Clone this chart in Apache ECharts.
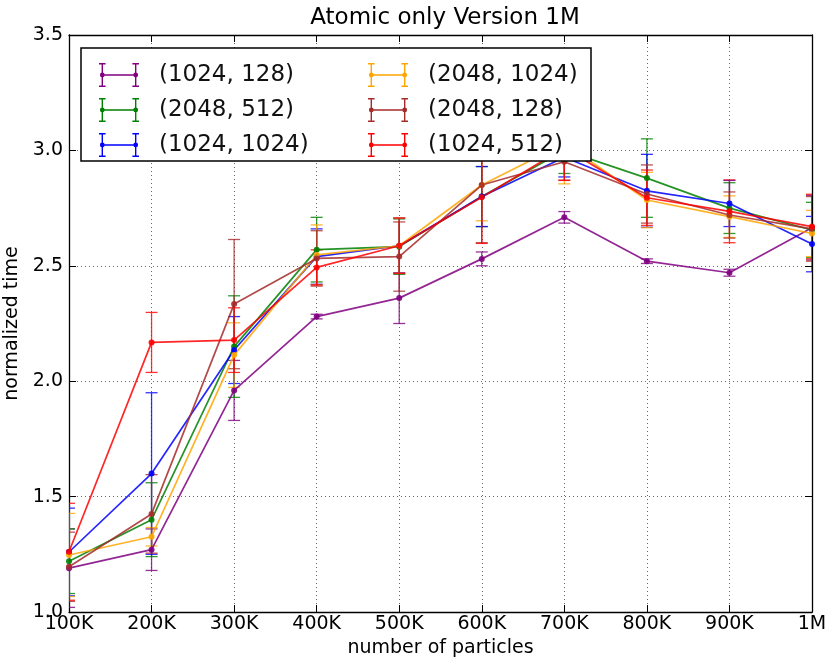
<!DOCTYPE html>
<html>
<head>
<meta charset="utf-8">
<script src="https://cdn.jsdelivr.net/npm/echarts@6/dist/echarts.min.js"></script>
<style>
  html, body { margin: 0; padding: 0; background: #fff; }
  #chart { width: 828px; height: 658px; }
</style>
</head>
<body>
<div id="chart"></div>
<script>
const chart = echarts.init(document.getElementById('chart'));

const particles = ['100K', '200K', '300K', '400K', '500K', '600K', '700K', '800K', '900K', '1M'];
const yTicks = [1.0, 1.5, 2.0, 2.5, 3.0, 3.5];

// Mean normalized time per configuration
const t1024x128 = [1.19, 1.27, 1.96, 2.28, 2.36, 2.53, 2.71, 2.52, 2.47, 2.665];
const t2048x512 = [1.22, 1.40, 2.15, 2.57, 2.583, 2.80, 3.00, 2.88, 2.75, 2.655];
const t1024x1024 = [1.26, 1.60, 2.135, 2.54, 2.587, 2.80, 2.97, 2.825, 2.77, 2.594];
const t2048x1024 = [1.247, 1.326, 2.113, 2.547, 2.587, 2.85, 3.03, 2.785, 2.713, 2.64];
const t2048x128 = [1.196, 1.425, 2.334, 2.532, 2.54, 2.85, 2.951, 2.811, 2.72, 2.66];
const t1024x512 = [1.261, 2.168, 2.178, 2.493, 2.587, 2.797, 3.01, 2.795, 2.736, 2.67];

// Half-height of the error bars
const e1024x128 = [0.17, 0.09, 0.13, 0.01, 0.11, 0.03, 0.025, 0.01, 0.015, 0.14];
const e2048x512 = [0.14, 0.16, 0.22, 0.14, 0.12, 0.13, 0.10, 0.17, 0.11, 0.12];
const e1024x1024 = [0.19, 0.35, 0.145, 0.12, 0.12, 0.13, 0.085, 0.158, 0.10, 0.12];
const e2048x1024 = [0.18, 0.04, 0.14, 0.13, 0.12, 0.155, 0.175, 0.12, 0.09, 0.10];
const e2048x128 = [0.15, 0.17, 0.28, 0.12, 0.15, 0.25, 0.08, 0.126, 0.10, 0.14];
const e1024x512 = [0.21, 0.13, 0.14, 0.076, 0.12, 0.20, 0.14, 0.12, 0.136, 0.14];

const configs = [
  { name: '(1024, 128)', color: '#800080', mean: t1024x128, err: e1024x128 },
  { name: '(2048, 512)', color: '#008000', mean: t2048x512, err: e2048x512 },
  { name: '(1024, 1024)', color: '#0000ff', mean: t1024x1024, err: e1024x1024 },
  { name: '(2048, 1024)', color: '#ffa500', mean: t2048x1024, err: e2048x1024 },
  { name: '(2048, 128)', color: '#a52a2a', mean: t2048x128, err: e2048x128 },
  { name: '(1024, 512)', color: '#ff0000', mean: t1024x512, err: e1024x512 }
];

const font = 'DejaVu Sans';

// Legend icon: horizontal errorbar glyph (two capped bars joined by a line with dots)
function rect(x, y, w, h) {
  return 'M' + x + ' ' + y + 'h' + w + 'v' + h + 'h' + (-w) + 'Z';
}
function dot(cx, cy, r) {
  return 'M' + (cx - r) + ' ' + cy + 'a' + r + ' ' + r + ' 0 1 1 ' + (2 * r) + ' 0' +
    'a' + r + ' ' + r + ' 0 1 1 ' + (-2 * r) + ' 0Z';
}
const errIcon = 'path://' +
  rect(2.6, 0, 1.4, 24) + rect(0, 0, 6.6, 1.4) + rect(0, 22.6, 6.6, 1.4) +
  rect(36, 0, 1.4, 24) + rect(33.4, 0, 6.6, 1.4) + rect(33.4, 22.6, 6.6, 1.4) +
  rect(3.3, 11.3, 33.4, 1.4) + dot(3.3, 12, 2.4) + dot(36.7, 12, 2.4);

function errorBarItem(color) {
  return function (params, api) {
    const x = api.value(0);
    const top = api.coord([x, api.value(2)]);
    const bottom = api.coord([x, api.value(1)]);
    const hw = 6;
    const style = { stroke: color, lineWidth: 1.3, opacity: 0.8 };
    return {
      type: 'group',
      children: [
        { type: 'line', shape: { x1: top[0], y1: top[1], x2: bottom[0], y2: bottom[1] }, style: style },
        { type: 'line', shape: { x1: top[0] - hw, y1: top[1], x2: top[0] + hw, y2: top[1] }, style: style },
        { type: 'line', shape: { x1: bottom[0] - hw, y1: bottom[1], x2: bottom[0] + hw, y2: bottom[1] }, style: style }
      ]
    };
  };
}

const series = [];
configs.forEach(c => {
  series.push({
    name: c.name,
    type: 'custom',
    xAxisIndex: 0,
    yAxisIndex: 0,
    renderItem: errorBarItem(c.color),
    clip: true,
    silent: true,
    data: c.mean.map((m, i) => [i, m - c.err[i], m + c.err[i]]),
    z: 2
  });
  series.push({
    name: c.name,
    type: 'line',
    xAxisIndex: 0,
    yAxisIndex: 0,
    data: c.mean,
    color: c.color,
    symbol: 'circle',
    symbolSize: 6,
    showSymbol: true,
    lineStyle: { width: 1.7, opacity: 0.85 },
    itemStyle: { opacity: 0.9 },
    z: 2
  });
});

const gridStyle = { show: true, lineStyle: { color: '#666', width: 1, type: [1, 3] } };

chart.setOption({
  animation: false,
  textStyle: { fontFamily: font },
  color: configs.map(c => c.color),
  title: {
    text: 'Atomic only Version 1M',
    left: 440,
    top: 2,
    textAlign: 'center',
    textStyle: { fontFamily: font, fontSize: 23, fontWeight: 'normal', color: '#000' }
  },
  grid: { left: 69, right: 16, top: 35, bottom: 46, outerBoundsMode: 'none' },
  legend: [
    {
      data: configs.slice(0, 3).map(c => c.name),
      orient: 'vertical',
      left: 94,
      top: 58,
      itemWidth: 40,
      itemHeight: 24,
      itemGap: 11,
      icon: errIcon,
      textStyle: { fontFamily: font, fontSize: 23, color: '#111', padding: [0, 0, 0, 15] },
      z: 4
    },
    {
      data: configs.slice(3).map(c => c.name),
      orient: 'vertical',
      left: 363,
      top: 58,
      itemWidth: 40,
      itemHeight: 24,
      itemGap: 11,
      icon: errIcon,
      textStyle: { fontFamily: font, fontSize: 23, color: '#111', padding: [0, 0, 0, 15] },
      z: 4
    }
  ],
  graphic: [
    {
      type: 'rect',
      z: 3,
      shape: { x: 81, y: 48, width: 510, height: 113 },
      style: { fill: '#fff', stroke: '#000', lineWidth: 1.5 }
    }
  ],
  xAxis: [
    {
      type: 'category',
      data: particles,
      boundaryGap: false,
      name: 'number of particles',
      nameLocation: 'middle',
      nameGap: 25,
      nameTextStyle: { fontFamily: font, fontSize: 19, color: '#000' },
      axisLine: { lineStyle: { color: '#000', width: 1.3 } },
      axisTick: { inside: true, length: 7, lineStyle: { color: '#000' } },
      axisLabel: { fontFamily: font, fontSize: 19, color: '#000', margin: 3 },
      splitLine: gridStyle
    },
    {
      type: 'category',
      data: particles,
      boundaryGap: false,
      position: 'top',
      axisLine: { lineStyle: { color: '#000', width: 1.3 } },
      axisTick: { inside: true, length: 7, lineStyle: { color: '#000' } },
      axisLabel: { show: false },
      splitLine: { show: false }
    }
  ],
  yAxis: [
    {
      type: 'value',
      min: yTicks[0],
      max: yTicks[yTicks.length - 1],
      interval: 0.5,
      name: 'normalized time',
      nameLocation: 'middle',
      nameGap: 42,
      nameTextStyle: { fontFamily: font, fontSize: 19, color: '#000' },
      axisLine: { show: true, lineStyle: { color: '#000', width: 1.3 } },
      axisTick: { show: true, inside: true, length: 7, lineStyle: { color: '#000' } },
      axisLabel: { fontFamily: font, fontSize: 19, color: '#000', margin: 6, formatter: v => v.toFixed(1) },
      splitLine: gridStyle
    },
    {
      type: 'value',
      min: yTicks[0],
      max: yTicks[yTicks.length - 1],
      interval: 0.5,
      position: 'right',
      axisLine: { show: true, lineStyle: { color: '#000', width: 1.3 } },
      axisTick: { show: true, inside: true, length: 7, lineStyle: { color: '#000' } },
      axisLabel: { show: false },
      splitLine: { show: false }
    }
  ],
  series: series
});
</script>
</body>
</html>
